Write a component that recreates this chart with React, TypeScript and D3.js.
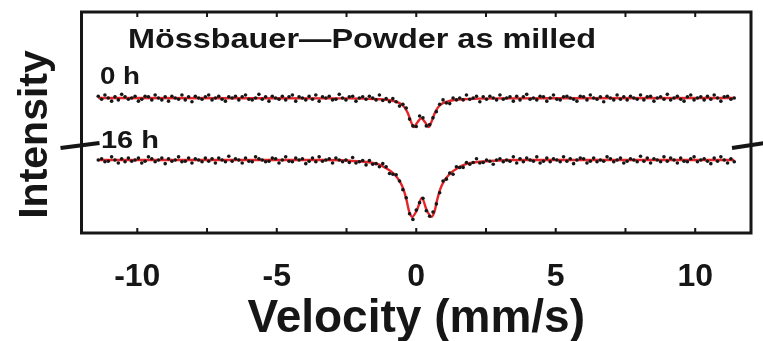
import React from "react";
import * as d3 from "d3";

// Velocity channels (mm/s)
const VEL_START = -11.4;
const VEL_STEP = 0.12;

// Relative transmission (‰) — 0 h spectrum
const DATA_0H = [
  1003,998,1005,1000,995,1002,997,1006,1002,998,1000,1003,995,998,1003,1002,997,1005,1000,997,
  1002,995,1003,1000,998,1005,997,1002,994,1003,1000,998,1002,1005,997,1000,1003,998,995,1002,
  1000,1003,997,1002,1005,998,997,1000,1006,998,1002,995,1003,1000,998,1003,997,1002,1005,995,
  1002,1000,997,1003,998,1005,995,1002,1000,1003,997,998,1006,1000,997,1002,1003,995,1000,1002,
  998,1003,1000,997,1005,996,999,994,999,994,987,990,984,966,955,954,971,968,955,957,
  968,978,990,997,992,991,1000,997,1000,997,1005,998,1000,1003,994,1002,998,1003,1000,997,
  1005,998,1000,1002,995,1003,997,1002,1006,998,1000,997,1003,1002,995,1000,1005,998,997,1002,
  1003,1000,998,995,1003,1002,997,1005,1000,998,1002,994,1003,1000,997,1005,998,1002,997,1003,
  1000,998,1005,997,1002,1003,995,1000,1002,998,1006,997,1000,1003,998,995,1002,1005,997,1000,
  1002,997,1003,998,1005,1000,995,1002,1003,998,1000,
];

// Relative transmission (‰) — 16 h spectrum
const DATA_16H = [
  1000,1002,997,998,1005,1000,995,1002,997,1003,998,
  1000,1003,995,998,1005,1002,997,1000,1003,994,1002,998,1000,1005,997,998,1003,995,1002,1000,
  997,1003,998,1002,995,1003,1000,997,1006,998,1002,1000,995,1003,998,997,1005,1002,1000,997,
  998,1003,1002,995,1000,1005,998,997,1003,1000,1002,994,998,1003,997,1005,998,1000,1002,995,
  1003,1000,997,1000,996,1004,995,997,999,992,999,993,994,989,994,989,978,977,976,966,
  952,939,913,904,919,931,938,918,909,916,929,947,966,969,979,977,989,988,988,996,
  993,996,1002,995,996,1000,998,993,1000,1002,997,1000,998,1005,995,1002,997,1003,1000,998,
  1005,995,998,1003,997,1002,1000,997,1005,998,1002,994,1000,1003,1002,995,998,1003,997,1000,
  998,1005,1002,997,1000,1003,995,998,1002,1000,997,1006,998,1003,995,1002,1000,997,1005,998,
  1003,1000,995,1003,998,997,1002,1005,997,1000,1002,998,994,1003,998,1005,1000,995,1002,997,
];

// Fitted curves (velocity, ‰)
const FIT_0H_V = [-11.4,-2.5,-1.3,-0.85,-0.6,-0.42,-0.3,-0.2,-0.09,0.045,0.18,0.315,0.45,0.56,0.66,0.78,0.96,1.21,1.66,2.86,11.4];
const FIT_0H = [1000,999.5,998.1,995.6,991.8,985,975.3,963.1,953.2,961,967.3,961,953.2,963.1,975.3,985,991.8,995.6,998.1,999.5,1000];
const FIT_16H_V = [-11.4,-3.3,-2.0,-1.4,-1.1,-0.8,-0.6,-0.45,-0.35,-0.25,-0.145,0.03,0.2,0.37,0.545,0.65,0.75,0.85,1.0,1.2,1.5,1.8,2.4,3.7,11.4];
const FIT_16H = [1000,1000,997.6,993.5,987.1,977.4,966.1,951.6,935.5,916.1,908.1,919.4,938.7,919.4,908.1,916.1,935.5,951.6,966.1,977.4,987.1,993.5,997.6,1000,1000];

const OFFSET_16H = -100;
const X_TICKS_MAJOR = [-10, -5, 0, 5, 10];
const X_TICK_LABELS = ["-10", "-5", "0", "5", "10"];
const X_TICKS_ALL = [-10, -7.5, -5, -2.5, 0, 2.5, 5, 7.5, 10];
const Y_BREAK_VALUE = 924;

const TITLE = "Mössbauer—Powder as milled";
const SERIES_LABELS = ["0 h", "16 h"];
const X_LABEL = "Velocity (mm/s)";
const Y_LABEL = "Intensity";

const W = 763;
const H = 341;
const L = 81.5, R = 751, T = 12, B = 233;
const FONT = "'Liberation Sans', Arial, Helvetica, sans-serif";
const RED = "#e4262a";
const INK = "#141414";

export default function App() {
  const x = d3.scaleLinear().domain([-12, 12]).range([L, R]);
  const y = d3.scaleLinear().domain([782, 1139]).range([B, T]);
  const line = d3
    .line<[number, number]>()
    .x((d) => x(d[0]))
    .y((d) => y(d[1]))
    .curve(d3.curveMonotoneX);

  const fit0: [number, number][] = FIT_0H_V.map((v, i) => [v, FIT_0H[i]]);
  const fit16: [number, number][] = FIT_16H_V.map((v, i) => [v, FIT_16H[i] + OFFSET_16H]);
  const pts0 = DATA_0H.map((d, i) => [VEL_START + i * VEL_STEP, d]);
  const pts16 = DATA_16H.map((d, i) => [VEL_START + i * VEL_STEP, d + OFFSET_16H]);

  const yb = y(Y_BREAK_VALUE);

  return (
    <svg
      width={W}
      height={H}
      style={{ position: "absolute", left: 0, top: 0, background: "#fff" }}
      fontFamily={FONT}
      fontWeight="bold"
    >
      <defs>
        <filter id="soft" x="-5%" y="-5%" width="110%" height="110%">
          <feGaussianBlur stdDeviation={0.45} />
        </filter>
      </defs>
      <rect x={0} y={0} width={W} height={H} fill="#fff" />
      <g filter="url(#soft)">
        {/* fits */}
        <path d={line(fit0) || ""} fill="none" stroke={RED} strokeWidth={2.4} />
        <path d={line(fit16) || ""} fill="none" stroke={RED} strokeWidth={2.4} />
        {/* data */}
        <g fill={INK}>
          {pts0.map((p, i) => (
            <circle key={"a" + i} cx={x(p[0])} cy={y(p[1])} r={1.8} />
          ))}
          {pts16.map((p, i) => (
            <circle key={"b" + i} cx={x(p[0])} cy={y(p[1])} r={1.8} />
          ))}
        </g>
        {/* frame */}
        <rect x={L} y={T} width={R - L} height={B - T} fill="none" stroke={INK} strokeWidth={3} />
        {/* ticks */}
        <g stroke={INK} strokeWidth={2}>
          {X_TICKS_ALL.map((t) => (
            <g key={t}>
              <line x1={x(t)} x2={x(t)} y1={B} y2={B - 5} />
              <line x1={x(t)} x2={x(t)} y1={T} y2={T + 5} />
            </g>
          ))}
        </g>
        {/* axis break marks */}
        <g stroke={INK} strokeWidth={4}>
          <line x1={L - 21} y1={yb + 3} x2={L + 18} y2={yb - 2} />
          <line x1={R - 19} y1={yb + 3} x2={R + 14} y2={yb - 2} />
        </g>
        {/* tick labels */}
        <g fill={INK} fontSize={32} textAnchor="middle">
          {X_TICKS_MAJOR.map((t, i) => (
            <text key={t} x={x(t)} y={286}>
              {X_TICK_LABELS[i]}
            </text>
          ))}
        </g>
        <text x={x(0)} y={332} fontSize={46} textAnchor="middle" fill={INK}>
          {X_LABEL}
        </text>
        <text
          transform={`translate(47, ${(T + B) / 2 + 12}) rotate(-90)`}
          fontSize={41}
          textAnchor="middle"
          fill={INK}
        >
          {Y_LABEL}
        </text>
        <text x={128} y={48} fontSize={28} fill={INK} textLength={468} lengthAdjust="spacingAndGlyphs">
          {TITLE}
        </text>
        <text x={100} y={84} fontSize={23} fill={INK} textLength={40} lengthAdjust="spacingAndGlyphs">
          {SERIES_LABELS[0]}
        </text>
        <text x={101} y={148} fontSize={23} fill={INK} textLength={58} lengthAdjust="spacingAndGlyphs">
          {SERIES_LABELS[1]}
        </text>
      </g>
    </svg>
  );
}
